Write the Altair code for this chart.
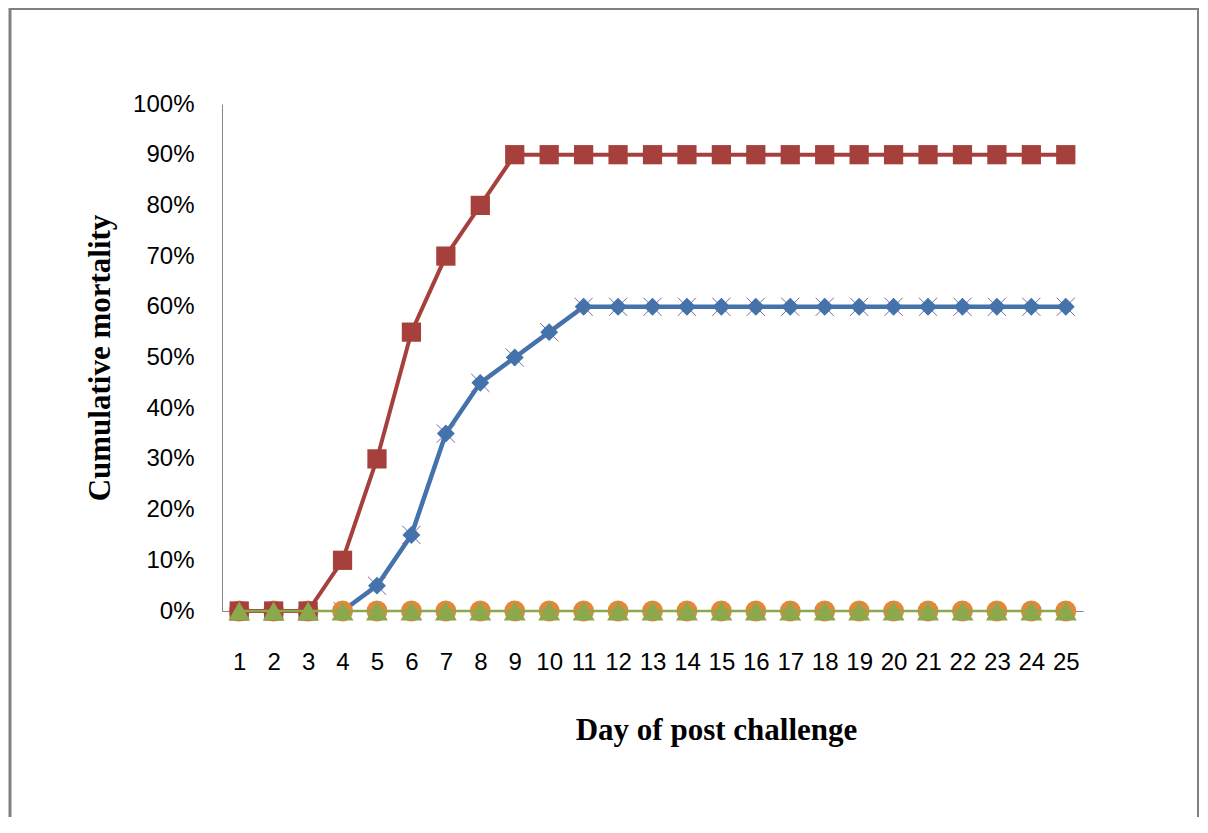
import altair as alt
import pandas as pd

days = list(range(1, 26))
red_vals = [0, 0, 0, 0.10, 0.30, 0.55, 0.70, 0.80] + [0.90] * 17
blue_vals = [None, None, None, 0, 0.05, 0.15, 0.35, 0.45, 0.50, 0.55] + [0.60] * 15
orange_vals = [0] * 25
green_vals = [0] * 25

def frame(vals):
    return pd.DataFrame({"day": [d for d, v in zip(days, vals) if v is not None],
                         "val": [v for v in vals if v is not None]})

xenc = alt.X("day:O", scale=alt.Scale(type="point", padding=0.5),
             axis=alt.Axis(labelAngle=0, labelFontSize=24, labelFont="Liberation Sans",
                           labelColor="black", labelPadding=39, ticks=False,
                           domainColor="#868686", domainWidth=1,
                           title="Day of post challenge", titleFont="Liberation Serif",
                           titleFontWeight="bold", titleFontSize=31, titleColor="black",
                           titleX=494, titleY=128, titleBaseline="alphabetic",
                           titleAlign="center", grid=False))
yenc = alt.Y("val:Q", scale=alt.Scale(domain=[0, 1]),
             axis=alt.Axis(values=[i / 10 for i in range(11)], format=".0%",
                           labelFontSize=24, labelFont="Liberation Sans", labelColor="black",
                           labelPadding=28, ticks=False, domainColor="#868686",
                           domainWidth=1, grid=False,
                           title="Cumulative mortality", titleFont="Liberation Serif",
                           titleFontWeight="bold", titleFontSize=31, titleColor="black",
                           titleAngle=270, titleX=-113, titleY=253.5,
                           titleBaseline="alphabetic", titleAlign="center"))

RED = "#A5403D"
BLUE = "#4472AA"
ORANGE = "#E0893B"
GREEN = "#8CA84C"
PURPLE = "#8064A2"

blue_df = frame(blue_vals)
red_df = frame(red_vals)
orange_df = frame(orange_vals)
green_df = frame(green_vals)

purple_x = alt.Chart(blue_df).mark_point(shape="M-1,-1L1,1M-1,1L1,-1", size=330,
                                         stroke=PURPLE, strokeWidth=1, filled=False,
                                         opacity=1).encode(x=xenc, y=yenc)
blue_line = alt.Chart(blue_df).mark_line(color=BLUE, strokeWidth=4.5).encode(x=xenc, y=yenc)
blue_pts = alt.Chart(blue_df).mark_point(shape="diamond", size=320, filled=True,
                                         color=BLUE, opacity=1).encode(x=xenc, y=yenc)
orange_pts = alt.Chart(orange_df).mark_point(shape="circle", size=440, filled=True,
                                             color=ORANGE, opacity=1).encode(x=xenc, y=yenc)
red_line = alt.Chart(red_df).mark_line(color=RED, strokeWidth=4).encode(x=xenc, y=yenc)
red_pts = alt.Chart(red_df).mark_point(shape="square", size=370, filled=True,
                                       color=RED, opacity=1).encode(x=xenc, y=yenc)
green_line = alt.Chart(green_df).mark_line(color=GREEN, strokeWidth=2.5).encode(x=xenc, y=yenc)
green_pts = alt.Chart(green_df).mark_point(shape="triangle-up", size=480, filled=True,
                                           color=GREEN, opacity=1).encode(x=xenc, y=yenc)

one = pd.DataFrame({"a": [0]})
border_left = alt.Chart(one).mark_rule(color="#808080", strokeWidth=3).encode(
    x=alt.value(-212), y=alt.value(-96), y2=alt.value(713))
border_top = alt.Chart(one).mark_rule(color="#808080", strokeWidth=2).encode(
    x=alt.value(-213), x2=alt.value(977), y=alt.value(-95))
border_right = alt.Chart(one).mark_rule(color="#808080", strokeWidth=2).encode(
    x=alt.value(976), y=alt.value(-96), y2=alt.value(713))

chart = alt.layer(
    border_left, border_top, border_right,
    blue_line, purple_x, blue_pts, orange_pts, red_line, red_pts, green_line, green_pts
).properties(
    width=861, height=507,
    autosize=alt.AutoSizeParams(type="none"),
    padding={"left": 214, "top": 96, "right": 117, "bottom": 214},
    background="white"
).configure_view(stroke=None)

chart.save("out.html", embed_options={"renderer": "svg", "actions": False})
